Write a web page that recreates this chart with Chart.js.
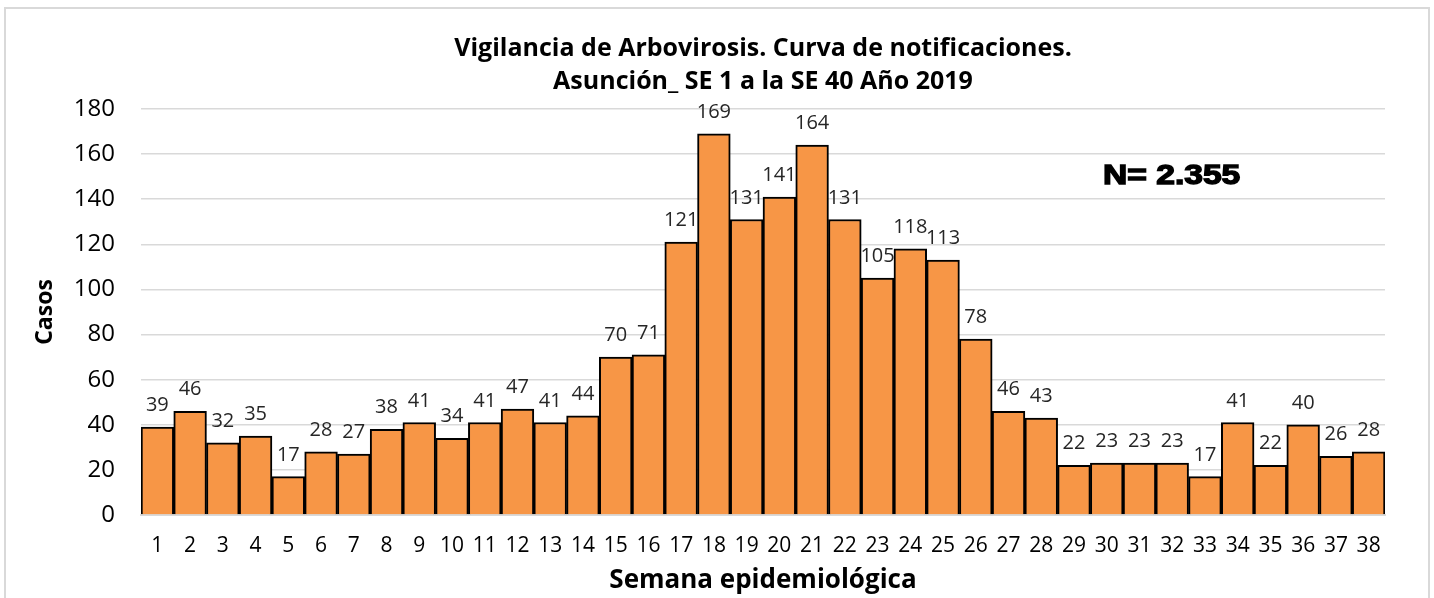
<!DOCTYPE html>
<html>
<head>
<meta charset="utf-8">
<script src="https://cdn.jsdelivr.net/npm/chart.js@4/dist/chart.umd.min.js"></script>
<style>
  html, body { margin: 0; padding: 0; background: #fff; }
  #wrap { position: absolute; left: 0; top: 0; width: 1434px; height: 598px; }
</style>
</head>
<body>
<div id="wrap"><canvas id="chart"></canvas></div>
<script>
// Semanas epidemiológicas y casos notificados
const semanas = ['1','2','3','4','5','6','7','8','9','10','11','12','13','14','15','16','17','18','19',
    '20','21','22','23','24','25','26','27','28','29','30','31','32','33','34','35','36','37','38'];
const casos = [39, 46, 32, 35, 17, 28, 27, 38, 41, 34, 41, 47, 41, 44, 70, 71, 121, 169, 131,
    141, 164, 131, 105, 118, 113, 78, 46, 43, 22, 23, 23, 23, 17, 41, 22, 40, 26, 28];
const titulo = ['Vigilancia de Arbovirosis. Curva de notificaciones.', 'Asunción_ SE 1 a la SE 40 Año 2019'];
const totalTexto = 'N= 2.355';

const FONT = "'Open Sans', sans-serif";

// light frame around the whole chart
const framePlugin = {
    id: 'frame',
    beforeDraw(chart) {
        const ctx = chart.ctx;
        ctx.save();
        ctx.strokeStyle = '#d9d9d9';
        ctx.lineWidth = 2;
        ctx.strokeRect(5, 8, 1424, 620);
        ctx.restore();
    }
};

// value above each bar + total annotation
const labelsPlugin = {
    id: 'barLabels',
    afterDatasetsDraw(chart) {
        const ctx = chart.ctx;
        const meta = chart.getDatasetMeta(0);
        ctx.save();
        ctx.fillStyle = '#262626';
        ctx.font = '20px ' + FONT;
        ctx.textAlign = 'center';
        ctx.textBaseline = 'alphabetic';
        meta.data.forEach((bar, i) => {
            ctx.fillText(casos[i], bar.x, bar.y - 16);
        });

        // N total
        ctx.fillStyle = '#000';
        ctx.font = "bold 28px 'Liberation Sans', Arial, sans-serif";
        ctx.textAlign = 'left';
        ctx.translate(1103, 184);
        ctx.scale(1.2, 1);
        ctx.strokeStyle = '#000';
        ctx.lineWidth = 1.4;
        ctx.fillText(totalTexto, 0, 0);
        ctx.strokeText(totalTexto, 0, 0);
        ctx.restore();
    }
};

const ctx = document.getElementById('chart').getContext('2d');
const chart = new Chart(ctx, {
    type: 'bar',
    data: {
        labels: semanas,
        datasets: [{
            data: casos,
            backgroundColor: '#F79646',
            borderColor: '#000000',
            borderWidth: 2,
            categoryPercentage: 1,
            barPercentage: 1
        }]
    },
    options: {
        responsive: true,
        maintainAspectRatio: false,
        animation: false,
        layout: { padding: { left: 6, right: 49, top: 0, bottom: 0 } },
        plugins: {
            legend: { display: false },
            tooltip: { enabled: false },
            title: {
                display: true,
                text: titulo,
                fullSize: false,
                color: '#000',
                font: { family: FONT, size: 25, weight: 'bold', lineHeight: 1.34 },
                padding: { top: 32, bottom: 10 }
            }
        },
        scales: {
            x: {
                grid: { display: false, drawTicks: false },
                border: { display: true, color: '#d9d9d9', width: 2 },
                ticks: {
                    color: '#000', font: { family: FONT, size: 21 },
                    padding: 18, maxRotation: 0, autoSkip: false
                },
                title: {
                    display: true, text: 'Semana epidemiológica', color: '#000',
                    font: { family: FONT, size: 26, weight: 'bold', lineHeight: 1.2 },
                    padding: { top: 0, bottom: 2 }
                },
                afterFit(scale) { scale.height = 83; }
            },
            y: {
                min: 0, max: 180,
                grid: { color: '#d9d9d9', lineWidth: 1.5, drawTicks: false },
                border: { display: false },
                ticks: {
                    stepSize: 20, color: '#000', font: { family: FONT, size: 24 },
                    padding: 26
                },
                title: {
                    display: true, text: 'Casos', color: '#000',
                    font: { family: FONT, size: 23, weight: 'bold', lineHeight: 1.2 },
                    padding: { top: 26, bottom: 0 }
                },
                afterFit(scale) { scale.width = 135; }
            }
        }
    },
    plugins: [framePlugin, labelsPlugin]
});
</script>
</body>
</html>
